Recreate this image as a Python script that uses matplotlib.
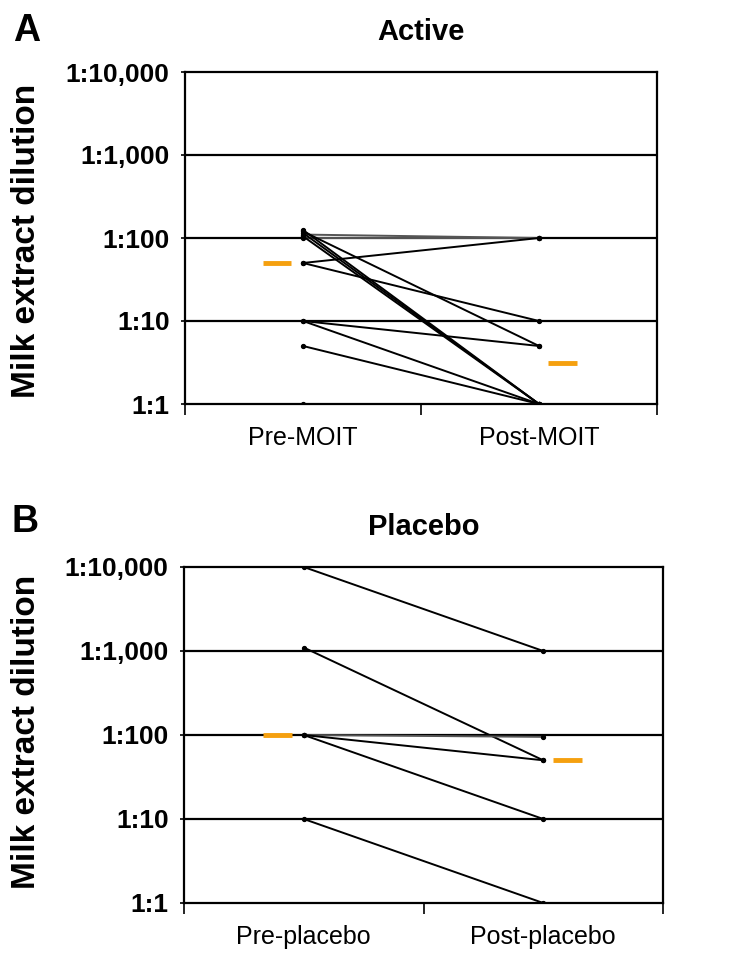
import matplotlib
matplotlib.use("Agg")
import matplotlib.pyplot as plt

plt.rcParams['font.family'] = ['Liberation Sans', 'DejaVu Sans']

# y axis (dilution 1:x)
dil_ticks = [1, 10, 100, 1000, 10000]
dil_labels = ['1:1', '1:10', '1:100', '1:1,000', '1:10,000']

# Active group: one pair per patient, pre -> post
active_cats = ['Pre-MOIT', 'Post-MOIT']
active_pre = [100, 110, 50, 120, 50, 105, 125, 115, 10, 10, 5, 1]
active_post = [100, 100, 100, 5, 10, 1, 1, 1, 5, 1, 1, 1]
active_median = [50, 3.1]

# Placebo group
placebo_cats = ['Pre-placebo', 'Post-placebo']
placebo_pre = [10000, 1100, 100, 100, 100, 10]
placebo_post = [1000, 50, 95, 50, 10, 1]
placebo_median = [100, 50]

W, H = 750, 961
fig = plt.figure(figsize=(W / 100, H / 100), dpi=100)


def panel(rect, cats, pre, post, med, title, title_y, letter, letter_pos, ylab_pos):
    ax = fig.add_axes(rect)
    for a, b in zip(pre, post):
        c = '#555555' if a == b or abs(a - b) < 15 and a > 50 else 'black'
        ax.plot([1, 2], [a, b], color=c, lw=1.4, marker='o', ms=2.8,
                mfc='black', mec='black', solid_capstyle='butt')
    # median marks, drawn just beside each column
    offs = [-0.11, 0.1]
    for i, m in enumerate(med):
        x = i + 1 + offs[i]
        ax.hlines(m, x - 0.06, x + 0.06, color='#F5A00F', lw=3.5)
    ax.set_yscale('log')
    ax.set_ylim(1, 10000)
    ax.set_xlim(0.5, 2.5)
    ax.set_yticks(dil_ticks)
    ax.set_yticklabels(dil_labels, fontsize=19, fontweight='bold')
    ax.minorticks_off()
    ax.tick_params(axis='y', length=3, width=1.2, pad=8)
    for t in dil_ticks[1:-1]:
        ax.axhline(t, color='black', lw=1.6, zorder=0)
    ax.set_xticks([1, 2])
    ax.set_xticklabels(cats, fontsize=18)
    ax.tick_params(axis='x', length=0, pad=16)
    ax.set_xticks([0.5, 1.5, 2.5], minor=True)
    ax.tick_params(axis='x', which='minor', length=8, width=1.2)
    for s in ax.spines.values():
        s.set_linewidth(1.6)
    cx = rect[0] + rect[2] / 2
    fig.text(cx, title_y, title, ha='center', va='center',
             fontsize=21, fontweight='bold')
    fig.text(letter_pos[0], letter_pos[1], letter, ha='center', va='center',
             fontsize=27, fontweight='bold')
    fig.text(ylab_pos[0], ylab_pos[1], 'Milk extract dilution', rotation=90,
             ha='center', va='center', fontsize=24, fontweight='bold')
    return ax


panel([185 / W, 1 - 404 / H, 472 / W, 332 / H], active_cats,
      active_pre, active_post, active_median, 'Active', 1 - 32 / H,
      'A', (27 / W, 1 - 31 / H), (27 / W, 1 - 241 / H))
panel([184 / W, 1 - 903 / H, 479 / W, 336 / H], placebo_cats,
      placebo_pre, placebo_post, placebo_median, 'Placebo', 1 - 527 / H,
      'B', (25 / W, 1 - 522 / H), (27 / W, 1 - 732 / H))

fig.savefig('out.png', dpi=100)
